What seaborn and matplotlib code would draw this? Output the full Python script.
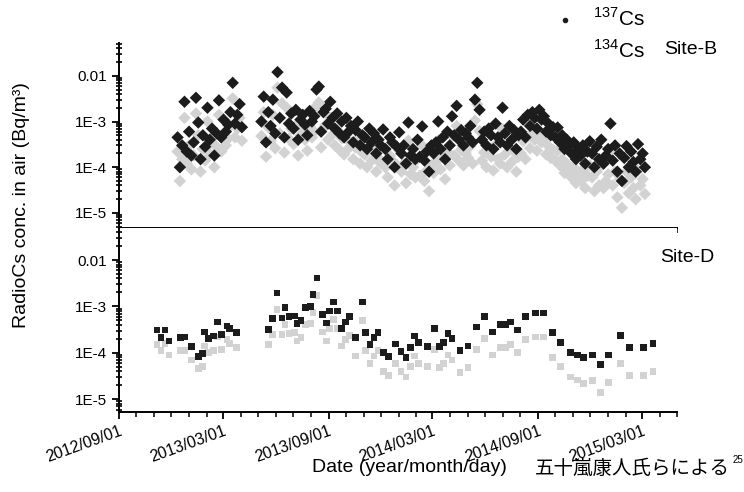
import numpy as np
import pandas as pd
import seaborn as sns
import matplotlib
matplotlib.use("Agg")
import matplotlib.pyplot as plt
import matplotlib.dates as mdates
from matplotlib.ticker import FixedLocator, NullFormatter
from matplotlib.lines import Line2D

# ---- Site-B (sampled every few days, values read every 4 days), mBq/m3 ----
b_step = "4D"
b_seg1_start = "2012-12-12"
b_cs137_seg1 = [0.45, 0.10, 0.30, 2.7, 0.22, 0.60, 0.18, 0.35, 3.3, 0.95,
                0.15, 0.50, 0.28, 2.0, 0.40, 0.70, 0.18, 0.55, 2.9, 0.45,
                1.1, 0.60, 0.85, 1.6, 7.0, 0.90, 1.4, 2.4, 0.75]
b_cs134_seg1 = [0.22, 0.05, 0.15, 1.2, 0.12, 0.30, 0.09, 0.18, 1.5, 0.50,
                0.08, 0.25, 0.14, 1.0, 0.20, 0.35, 0.10, 0.28, 1.4, 0.22,
                0.55, 0.30, 0.42, 0.80, 3.2, 0.45, 0.70, 1.2, 0.38]

b_seg2_start = "2013-05-07"
b_cs137_seg2 = [
    1.0, 3.5, 0.35, 1.6, 0.80, 3.0, 0.55,            # 2013-05
    12.0, 1.2, 5.5, 0.45, 4.3, 0.90, 1.5,            # 06
    0.70, 1.8, 0.40, 1.1, 1.4, 0.85, 0.50, 1.7,      # 07
    1.0, 1.3, 5.0, 5.8, 0.60, 1.6, 1.9, 0.90,        # 08
    2.7, 1.2, 0.70, 1.5, 0.55, 1.0, 0.45,            # 09
    1.2, 0.60, 0.80, 0.35, 0.65, 1.0, 0.30, 0.50,    # 10
    0.45, 0.25, 0.70, 0.35, 0.55, 0.20, 0.40,        # 11
    0.30, 0.67, 0.25, 0.15, 0.45, 0.35, 0.10, 0.28,  # 12
    0.58, 0.20, 0.30, 0.12, 0.95, 0.18, 0.25, 0.15,  # 2014-01
    0.40, 0.17, 0.78, 0.14, 0.22, 0.08, 0.30,        # 02
    0.20, 0.35, 1.0, 0.25, 0.45, 0.15, 0.60, 0.30,   # 03
    1.3, 0.50, 2.2, 0.40, 0.65, 0.30, 0.55,          # 04
    0.45, 0.80, 0.35, 3.0, 7.0, 1.8, 0.40, 0.60,     # 05
    0.30, 0.70, 0.50, 0.25, 0.90, 0.45, 0.35,        # 06
    2.0, 0.55, 0.30, 0.80, 0.40, 0.65, 0.25, 0.50,   # 07
    0.60, 1.1, 0.45, 1.4, 0.80, 1.6, 1.2, 0.70,      # 08
    1.8, 1.1, 1.3, 0.60, 0.90, 0.50, 0.75,           # 09
    0.45, 0.74, 0.35, 0.50, 0.25, 0.40, 0.30, 0.20,  # 10
    0.35, 0.15, 0.25, 0.18, 0.30, 0.12, 0.22, 0.37,  # 11
    0.20, 0.10, 0.28, 0.15, 0.40, 0.12, 0.18,        # 12
    0.25, 0.90, 0.14, 0.30, 0.08, 0.20, 0.05, 0.16,  # 2015-01
    0.29, 0.10, 0.22, 0.13, 0.08, 0.32, 0.15,        # 02
    0.20, 0.10]                                      # 03
b_cs134_seg2 = [
    0.48, 1.6, 0.17, 0.75, 0.38, 1.4, 0.26,
    5.5, 0.55, 2.5, 0.21, 2.0, 0.42, 0.70,
    0.32, 0.82, 0.18, 0.50, 0.65, 0.40, 0.23, 0.78,
    0.45, 0.60, 2.2, 2.6, 0.27, 0.72, 0.85, 0.40,
    1.2, 0.52, 0.30, 0.65, 0.24, 0.43, 0.19,
    0.50, 0.26, 0.34, 0.15, 0.27, 0.42, 0.12, 0.21,
    0.19, 0.10, 0.29, 0.14, 0.23, 0.08, 0.16,
    0.12, 0.27, 0.10, 0.06, 0.18, 0.14, 0.04, 0.11,
    0.23, 0.08, 0.12, 0.045, 0.38, 0.07, 0.10, 0.06,
    0.15, 0.065, 0.30, 0.05, 0.085, 0.03, 0.11,
    0.075, 0.13, 0.38, 0.09, 0.17, 0.055, 0.22, 0.11,
    0.48, 0.18, 0.80, 0.14, 0.24, 0.11, 0.20,
    0.16, 0.29, 0.12, 1.05, 2.4, 0.62, 0.14, 0.21,
    0.10, 0.24, 0.17, 0.085, 0.31, 0.15, 0.12,
    0.68, 0.19, 0.10, 0.27, 0.13, 0.22, 0.08, 0.17,
    0.20, 0.37, 0.15, 0.46, 0.26, 0.53, 0.40, 0.23,
    0.58, 0.35, 0.42, 0.19, 0.29, 0.16, 0.24,
    0.14, 0.23, 0.11, 0.15, 0.075, 0.12, 0.09, 0.06,
    0.10, 0.045, 0.075, 0.05, 0.09, 0.035, 0.065, 0.11,
    0.06, 0.03, 0.08, 0.04, 0.11, 0.035, 0.05,
    0.07, 0.24, 0.04, 0.08, 0.022, 0.055, 0.013, 0.045,
    0.08, 0.027, 0.06, 0.035, 0.02, 0.085, 0.04,
    0.055, 0.026]

# ---- Site-D (weekly samples), mBq/m3 ----
d_dates = [
    "2012-11-06", "2012-11-13", "2012-11-20", "2012-11-27", "2012-12-17", "2012-12-25",
    "2013-01-05", "2013-01-17", "2013-01-24", "2013-01-28", "2013-02-04", "2013-02-12",
    "2013-02-19", "2013-02-26", "2013-03-08", "2013-03-13", "2013-03-24",
    "2013-05-20", "2013-05-27", "2013-06-03", "2013-06-12", "2013-06-17", "2013-06-24",
    "2013-07-03", "2013-07-08", "2013-07-15", "2013-07-23", "2013-07-31", "2013-08-05",
    "2013-08-12", "2013-08-21", "2013-08-29", "2013-09-02", "2013-09-09", "2013-09-17",
    "2013-09-24", "2013-10-01", "2013-10-08", "2013-10-18", "2013-10-30", "2013-11-04",
    "2013-11-12", "2013-11-19", "2013-11-26", "2013-12-05", "2013-12-15", "2013-12-26",
    "2014-01-05", "2014-01-14", "2014-01-22", "2014-01-28", "2014-02-05", "2014-02-20",
    "2014-03-04", "2014-03-13", "2014-03-20", "2014-03-28", "2014-04-04", "2014-04-18",
    "2014-05-02", "2014-05-16", "2014-05-30", "2014-06-14", "2014-06-28", "2014-07-06",
    "2014-07-15", "2014-07-27", "2014-08-10", "2014-08-28", "2014-09-11", "2014-09-26",
    "2014-10-10", "2014-10-27", "2014-11-08", "2014-11-19", "2014-12-05", "2014-12-19",
    "2015-01-02", "2015-01-22", "2015-02-07", "2015-03-03", "2015-03-20"]
d_cs137 = [
    0.31, 0.21, 0.31, 0.18, 0.21, 0.22, 0.135, 0.082, 0.095, 0.28, 0.20, 0.23,
    0.46, 0.25, 0.38, 0.33, 0.27,
    0.32, 0.54, 1.95, 0.56, 0.93, 0.60, 0.62, 0.42, 0.49, 0.93, 1.0, 1.8,
    4.1, 0.66, 0.44, 0.80, 1.25, 0.80, 0.34, 0.46, 0.60, 0.21, 1.25, 0.27,
    0.15, 0.21, 0.27, 0.10, 0.083, 0.155, 0.105, 0.078, 0.13, 0.23, 0.165, 0.135,
    0.34, 0.135, 0.165, 0.26, 0.20, 0.11, 0.14, 0.36, 0.60, 0.28, 0.40, 0.40,
    0.46, 0.31, 0.60, 0.72, 0.72, 0.27, 0.17, 0.10, 0.09, 0.078, 0.09, 0.055,
    0.09, 0.24, 0.13, 0.13, 0.16]
d_cs134 = [
    0.15, 0.11, 0.16, 0.09, 0.11, 0.11, 0.07, 0.045, 0.05, 0.14, 0.10, 0.11,
    0.22, 0.12, 0.19, 0.16, 0.13,
    0.15, 0.25, 0.85, 0.25, 0.40, 0.26, 0.27, 0.18, 0.21, 0.40, 0.43, 0.75,
    1.7, 0.28, 0.18, 0.33, 0.52, 0.33, 0.14, 0.19, 0.24, 0.085, 0.50, 0.11,
    0.06, 0.085, 0.11, 0.04, 0.033, 0.06, 0.04, 0.03, 0.05, 0.085, 0.06, 0.05,
    0.12, 0.048, 0.058, 0.09, 0.07, 0.038, 0.048, 0.12, 0.20, 0.09, 0.13, 0.13,
    0.15, 0.10, 0.19, 0.22, 0.22, 0.08, 0.05, 0.03, 0.026, 0.022, 0.025, 0.014,
    0.023, 0.06, 0.033, 0.032, 0.04]

major_ticks = ["2012-09-01", "2013-03-01", "2013-09-01", "2014-03-01", "2014-09-01", "2015-03-01"]
y_ticks = [1e-2, 1e-3, 1e-4, 1e-5]
y_tick_labels = ["0.01", "1E-3", "1E-4", "1E-5"]


def frame(dates, values, nuclide):
    return pd.DataFrame({"date": pd.to_datetime(dates),
                         "conc": np.array(values) / 1000.0,
                         "nuclide": nuclide})


site_b = pd.concat([
    frame(pd.date_range(b_seg1_start, periods=len(b_cs134_seg1), freq=b_step), b_cs134_seg1, "134Cs"),
    frame(pd.date_range(b_seg2_start, periods=len(b_cs134_seg2), freq=b_step), b_cs134_seg2, "134Cs"),
    frame(pd.date_range(b_seg1_start, periods=len(b_cs137_seg1), freq=b_step), b_cs137_seg1, "137Cs"),
    frame(pd.date_range(b_seg2_start, periods=len(b_cs137_seg2), freq=b_step), b_cs137_seg2, "137Cs"),
], ignore_index=True)
site_d = pd.concat([frame(d_dates, d_cs134, "134Cs"), frame(d_dates, d_cs137, "137Cs")],
                   ignore_index=True)

sns.set_theme(style="ticks")
plt.rcParams["font.family"] = ["Liberation Sans", "Noto Sans CJK JP"]
plt.rcParams["mathtext.fontset"] = "custom"
plt.rcParams["mathtext.rm"] = "Liberation Sans"
for key in ["text.color", "axes.labelcolor", "xtick.color", "ytick.color"]:
    plt.rcParams[key] = "black"

palette = {"134Cs": "#d2d2d2", "137Cs": "#1c1c1c"}

fig = plt.figure(figsize=(7.44, 4.92), dpi=100)
ax_b = fig.add_axes([0.160, 0.5366, 0.750, 0.376])
ax_d = fig.add_axes([0.160, 0.1626, 0.750, 0.374])

sns.scatterplot(data=site_b, x="date", y="conc", hue="nuclide", hue_order=["134Cs", "137Cs"],
                palette=palette, marker="D", s=40, edgecolor="none", legend=False, ax=ax_b)
sns.scatterplot(data=site_d, x="date", y="conc", hue="nuclide", hue_order=["134Cs", "137Cs"],
                palette=palette, marker="s", s=24, edgecolor="none", legend=False, ax=ax_d)

# log minor tick positions 2..9 x 10^n
minor_y = [m * 10.0 ** e for e in range(-6, -1) for m in range(2, 10)]

xmin, xmax = pd.Timestamp("2012-09-01"), pd.Timestamp("2015-05-01")
for ax, ylo, yhi in [(ax_b, 4.7e-6, 0.052), (ax_d, 5.3e-6, 0.049)]:
    ax.set_yscale("log")
    ax.set_ylim(ylo, yhi)
    ax.set_xlim(xmin, xmax)
    ax.set_xlabel("")
    ax.set_ylabel("")
    ax.set_yticks(y_ticks, y_tick_labels)
    ax.set_yticks([v for v in minor_y if ylo <= v <= yhi], minor=True)
    ax.yaxis.set_minor_formatter(NullFormatter())
    ax.xaxis.set_major_locator(FixedLocator(mdates.date2num(pd.to_datetime(major_ticks))))
    ax.xaxis.set_minor_locator(mdates.MonthLocator())
    ax.xaxis.set_major_formatter(mdates.DateFormatter("%Y/%m/%d"))
    ax.tick_params(axis="both", which="major", direction="out", length=5, width=1.3,
                   labelsize=11, color="black")
    ax.tick_params(axis="x", which="minor", direction="out", length=3.5, width=1.1,
                   color="black", bottom=True)
    ax.tick_params(axis="y", which="minor", direction="inout", length=5, width=1.2,
                   color="black", left=True)
    for side in ["top", "right"]:
        ax.spines[side].set_visible(False)
    for side in ["left", "bottom"]:
        ax.spines[side].set_linewidth(1.4)
        ax.spines[side].set_color("black")

ax_b.tick_params(axis="x", labelbottom=False)
for lab in ax_d.get_xticklabels():
    lab.set_rotation(20)
    lab.set_ha("right")
    lab.set_rotation_mode("anchor")
    lab.set_fontsize(11.5)

# legend and panel names
fig.add_artist(Line2D([565 / 744], [1 - 20 / 492], marker="o", markersize=3,
                      color="#1c1c1c", linestyle="none"))
fig.text(593 / 744, 1 - 18 / 492, r"$^{\mathregular{137}}$Cs", fontsize=15, va="center")
fig.text(593 / 744, 1 - 50 / 492, r"$^{\mathregular{134}}$Cs", fontsize=15, va="center")
fig.text(664 / 744, 1 - 50 / 492, "Site-B", fontsize=14, va="center")
fig.text(660 / 744, 1 - 258 / 492, "Site-D", fontsize=14, va="center")

fig.text(22 / 744, 1 - 205 / 492, "RadioCs conc. in air (Bq/m³)", fontsize=14,
         rotation=90, ha="center", va="center")
fig.text(409 / 744, 1 - 468 / 492, "Date (year/month/day)", fontsize=14,
         ha="center", va="center")
fig.text(535 / 744, 1 - 468 / 492, "五十嵐康人氏らによる", fontsize=14,
         ha="left", va="center", family=["Noto Sans CJK JP"])
fig.text(733 / 744, 1 - 460 / 492, "25", fontsize=7, ha="left", va="center")

fig.savefig("out.png", dpi=100, facecolor="white")
